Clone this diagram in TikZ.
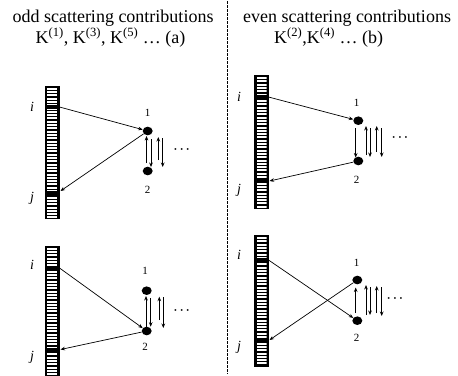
\documentclass[tikz,border=0pt]{standalone}
\usepackage{fontspec}
\setmainfont{Liberation Serif}
\usetikzlibrary{arrows.meta,shapes.geometric}
\tikzset{
  dotnode/.style={ellipse, fill=black, inner sep=0pt, minimum width=10pt, minimum height=8.6pt},
  arr/.style={-{Stealth[length=4.5pt,width=3.6pt]}, line width=0.7pt},
  numlbl/.style={font=\fontsize{11}{11}\selectfont, inner sep=0pt},
  idxlbl/.style={font=\fontsize{14}{14}\selectfont\itshape, inner sep=0pt},
  titletext/.style={font=\fontsize{18}{18}\selectfont, inner sep=0pt, anchor=base},
  ellip/.style={inner sep=0pt, font=\fontsize{12}{12}\selectfont\boldmath},
}
% ladder: #1 x left, #2 y top, #3 y bottom, #4 y of i band, #5 y of j band
\newcommand\drawladder[5]{%
  \fill[black] (#1,#2) rectangle ({#1+15},#3);
  \begin{scope}
    \clip ({#1+2.5},{#2+2}) rectangle ({#1+12.5},{#3-2});
    \foreach \k in {0,...,41} {
      \fill[white] ({#1+2.5},{#2+2+\k*3.3}) rectangle ({#1+12.5},{#2+4+\k*3.3});
    }
  \end{scope}
  \fill[black] (#1,{#4-2}) rectangle ({#1+15},{#4+2.2});
  \fill[black] (#1,{#5-2}) rectangle ({#1+15},{#5+2.2});
}
% vertical arrow: #1 name prefix, #2 x, #3 y start, #4 y end
\newcommand\varrow[4]{%
  \coordinate (#1s) at (#2,#3);
  \coordinate (#1e) at (#2,#4);
  \draw[arr] (#1s) -- (#1e);
}
\begin{document}
\begin{tikzpicture}[x=1pt,y=-1pt]
\useasboundingbox (0,0) rectangle (458,375);
\begin{scope}
\clip (0,0) rectangle (458,375);

% titles
\node[titletext] (tA) at (113,22) {odd scattering contributions};
\node[titletext] (tB) at (110.5,43) {K\textsuperscript{(1)}, K\textsuperscript{(3)}, K\textsuperscript{(5)} … (a)};
\node[titletext] (tC) at (347,22) {even scattering contributions};
\node[titletext, anchor=base west] (tD) at (274,43) {K\textsuperscript{(2)},K\textsuperscript{(4)} … (b)};

% divider
\coordinate (dtop) at (227,1);
\coordinate (dbot) at (227,374);
\draw[line width=0.6pt, dash pattern=on 2.5pt off 1.5pt] (dtop) -- (dbot);

% ---------- top left ----------
\drawladder{44.5}{85.7}{219}{106.5}{192.5}
\coordinate (tli) at (59.5,107);
\coordinate (tlj) at (60.5,191);
\node[idxlbl] (tlil) at (32,107) {i};
\node[idxlbl] (tljl) at (32,198) {j};
\node[dotnode] (tl1) at (147.7,131) {};
\node[dotnode] (tl2) at (147.7,171) {};
\node[numlbl] (tl1l) at (147.5,113) {1};
\node[numlbl] (tl2l) at (147.5,190) {2};
\draw[arr] (tli) -- (tl1);
\draw[arr] (tl1) -- (tlj);
\varrow{tla}{146.5}{163}{136}
\varrow{tlb}{151}{139}{167}
\varrow{tlc}{158.3}{160}{137}
\varrow{tld}{162.7}{138}{167}
\node[ellip] (tldots) at (181.7,150) {$\cdots$};

% ---------- top right ----------
\drawladder{254}{75}{209}{96.5}{181}
\coordinate (tri) at (268.5,97);
\coordinate (trj) at (269.5,181);
\node[idxlbl] (tril) at (239,97) {i};
\node[idxlbl] (trjl) at (239,190) {j};
\node[dotnode] (tr1) at (358.3,120.7) {};
\node[dotnode] (tr2) at (358.3,161) {};
\node[numlbl] (tr1l) at (356.7,103) {1};
\node[numlbl] (tr2l) at (356.7,180) {2};
\draw[arr] (tri) -- (tr1);
\draw[arr] (tr2) -- (trj);
\coordinate (trm1) at (355.7,128);
\coordinate (trm2) at (355.7,157.5);
\draw[arr] (trm1) -- (trm2);
\varrow{tra}{366}{155}{126}
\varrow{trb}{370}{128}{157}
\varrow{trc}{376.7}{152}{126}
\varrow{trd}{381.7}{128}{157}
\node[ellip] (trdots) at (400,138) {$\cdots$};

% ---------- bottom left ----------
\drawladder{44.5}{245.7}{380}{267.5}{349.5}
\coordinate (bli) at (59.5,268);
\coordinate (blj) at (60.5,349.5);
\node[idxlbl] (blil) at (32,265) {i};
\node[idxlbl] (bljl) at (32,357) {j};
\node[dotnode] (bl1) at (146.7,290.7) {};
\node[dotnode] (bl2) at (146.7,331) {};
\node[numlbl] (bl1l) at (145,271) {1};
\node[numlbl] (bl2l) at (145,347) {2};
\draw[arr] (bli) -- (bl2);
\draw[arr] (bl2) -- (blj);
\varrow{bla}{146}{326.7}{296}
\varrow{blb}{150.7}{298}{326.7}
\varrow{blc}{159.3}{320}{296.7}
\varrow{bld}{163.3}{297}{328}
\node[ellip] (bldots) at (181.7,311) {$\cdots$};

% ---------- bottom right ----------
\drawladder{254}{235}{367}{260}{340}
\coordinate (bri) at (268.5,260);
\coordinate (brj) at (269.5,340);
\node[idxlbl] (bril) at (239,255) {i};
\node[idxlbl] (brjl) at (239,347) {j};
\node[dotnode] (br1) at (357.3,280) {};
\node[dotnode] (br2) at (357.3,320.7) {};
\node[numlbl] (br1l) at (356.7,262.7) {1};
\node[numlbl] (br2l) at (356.7,338.3) {2};
\draw[arr] (bri) -- (br2);
\draw[arr] (br1) -- (brj);
\coordinate (brm1) at (355.7,313);
\coordinate (brm2) at (355.7,287.5);
\draw[arr] (brm1) -- (brm2);
\varrow{bra}{366}{315}{285}
\varrow{brb}{370}{287}{315}
\varrow{brc}{376.7}{313}{286}
\varrow{brd}{381.7}{287}{316}
\node[ellip] (brdots) at (395,299) {$\cdots$};
\end{scope}
\end{tikzpicture}
\end{document}
